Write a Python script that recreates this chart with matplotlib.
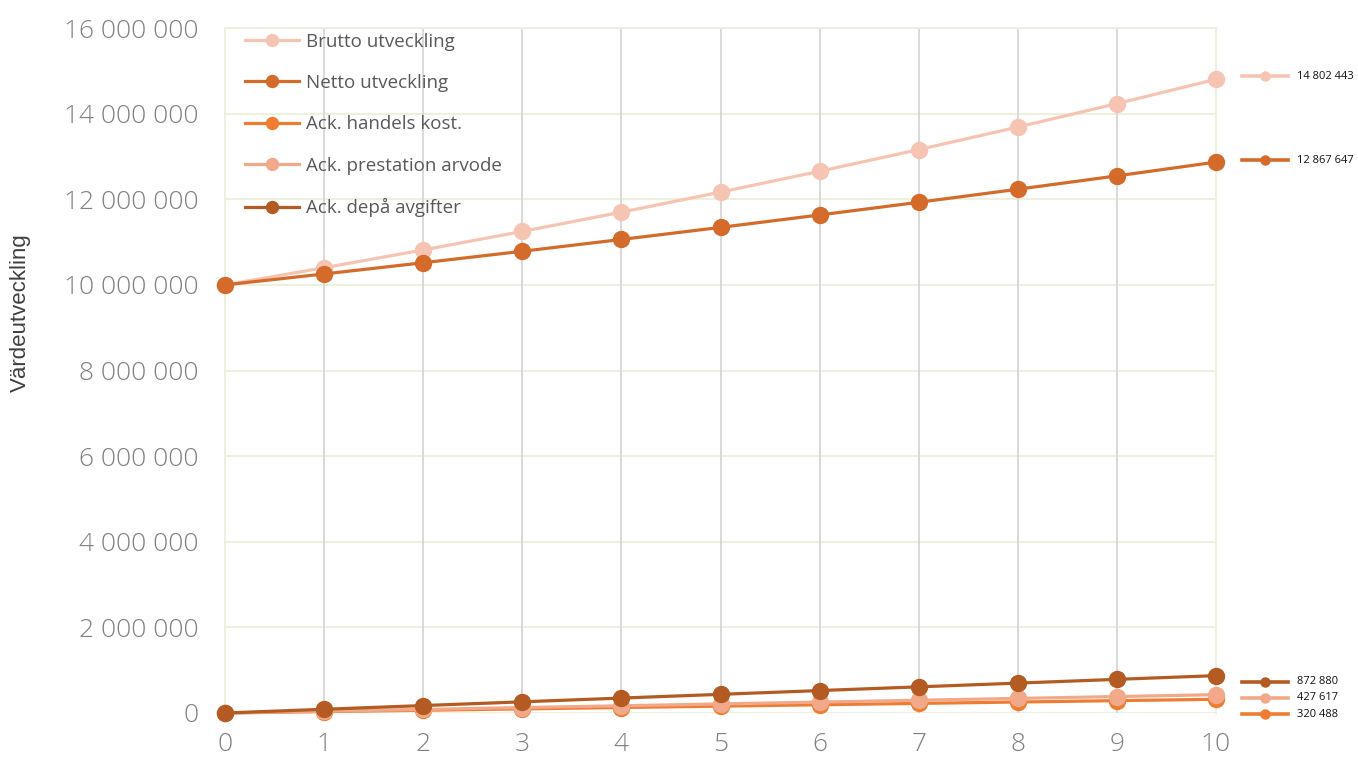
import numpy as np
import matplotlib
matplotlib.use("Agg")
import matplotlib.pyplot as plt
from matplotlib.lines import Line2D
from matplotlib.ticker import FuncFormatter
from matplotlib.transforms import blended_transform_factory, ScaledTranslation

# Värdeutveckling per år
years = list(range(11))
brutto = [10000000, 10400000, 10816000, 11248640, 11698586, 12166529, 12653190,
          13159318, 13685691, 14233118, 14802443]
netto = [10000000, 10255000, 10517000, 10785000, 11061000, 11343000, 11633000,
         11929000, 12234000, 12546000, 12867647]
handels = [0, 32000, 64100, 96100, 128200, 160200, 192300, 224300, 256400, 288400, 320488]
prestation = [0, 42000, 84000, 127000, 169000, 212000, 255000, 298000, 341000, 384000, 427617]
depa = [0, 87000, 174000, 261000, 349000, 436000, 524000, 611000, 698000, 786000, 872880]

labels = ["Brutto utveckling", "Netto utveckling", "Ack. handels kost.",
          "Ack. prestation arvode", "Ack. depå avgifter"]
series = [brutto, netto, handels, prestation, depa]
colors = ["#f5c4b2", "#d46b2b", "#ee7d32", "#f1a98a", "#b35b22"]
end_labels = ["14 802 443", "12 867 647", "320 488", "427 617", "872 880"]
# vertical nudge (px) of the end labels so the small ones do not collide
end_shift = [3, 2, -15, -3, -6]

grid_beige = "#eef0de"
tick_grey = "#808080"

fig = plt.figure(figsize=(13.58, 7.63), dpi=100)
ax = fig.add_axes([225 / 1358, 1 - 713 / 763, 991 / 1358, 685 / 763])

for vals, lab, col in zip(series, labels, colors):
    ax.plot(years, vals, color=col, lw=2.3, marker="o", ms=11.5, label=lab,
            clip_on=False, zorder=3)

ax.set_xlim(0, 10)
ax.set_ylim(0, 16000000)
ax.set_xticks(years)
ax.set_yticks(np.arange(0, 16000001, 2000000))
ax.yaxis.set_major_formatter(FuncFormatter(lambda v, p: f"{int(v):,}".replace(",", " ")))
ax.tick_params(length=0, labelsize=19, colors=tick_grey)
ax.tick_params(axis="y", pad=19)
ax.tick_params(axis="x", pad=14)
for t in ax.get_xticklabels() + ax.get_yticklabels():
    t.set_fontfamily("Open Sans")
    t.set_fontweight("light")

ax.grid(axis="y", color=grid_beige, lw=1.5)
for x in years[1:-1]:
    ax.axvline(x, color="#d9d9d9", lw=1.4, zorder=1)
for side in ["left", "right", "top"]:
    ax.spines[side].set_color(grid_beige)
    ax.spines[side].set_linewidth(1.5)
ax.spines["bottom"].set_visible(False)
ax.set_axisbelow(True)

ax.set_ylabel("Värdeutveckling", fontsize=16, color="#404040",
              family="Liberation Sans")
ax.yaxis.set_label_coords(-0.196, 0.584)

leg = ax.legend(loc="upper left", bbox_to_anchor=(0.003, 1.018), frameon=False,
                fontsize=13.5, labelspacing=1.25, handlelength=2.9,
                handletextpad=0.35, markerscale=0.75)
for t in leg.get_texts():
    t.set_color("#595959")
    t.set_fontfamily("Open Sans")

# small end-value keys to the right of the plot area
trans = blended_transform_factory(ax.transAxes, ax.transData)
for vals, col, txt, dy in zip(series, colors, end_labels, end_shift):
    off = trans + ScaledTranslation(0, dy / 100, fig.dpi_scale_trans)
    ax.add_line(Line2D([1.026, 1.073], [vals[-1], vals[-1]], color=col, lw=2.6,
                       transform=off, clip_on=False))
    ax.add_line(Line2D([1.049], [vals[-1]], color=col, marker="o", ms=6.5,
                       transform=off, clip_on=False))
    ax.text(1.082, vals[-1], txt, transform=off, fontsize=8, color="#111111",
            va="center", ha="left", family="Open Sans")

fig.savefig("out.png", dpi=100)
